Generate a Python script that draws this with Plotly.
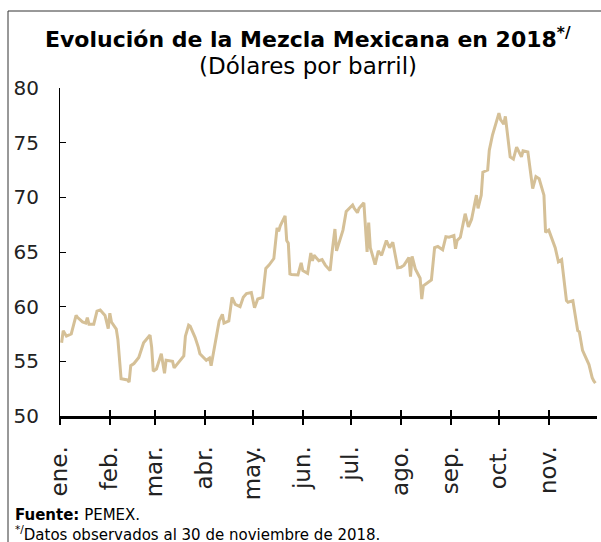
import plotly.graph_objects as go

# Mezcla Mexicana, USD por barril
dates = [
    "2018-01-02", "2018-01-03", "2018-01-05", "2018-01-08", "2018-01-11", "2018-01-12",
    "2018-01-15", "2018-01-17", "2018-01-18", "2018-01-19", "2018-01-22", "2018-01-24",
    "2018-01-26", "2018-01-29", "2018-01-31", "2018-02-01", "2018-02-02", "2018-02-05",
    "2018-02-06", "2018-02-08", "2018-02-12", "2018-02-13", "2018-02-14", "2018-02-16",
    "2018-02-19", "2018-02-22", "2018-02-26", "2018-02-27", "2018-02-28", "2018-03-02",
    "2018-03-05", "2018-03-07", "2018-03-08", "2018-03-12", "2018-03-13", "2018-03-19",
    "2018-03-20", "2018-03-22", "2018-03-23", "2018-03-26", "2018-03-28", "2018-03-29",
    "2018-04-02", "2018-04-04", "2018-04-05", "2018-04-06", "2018-04-10", "2018-04-12",
    "2018-04-13", "2018-04-16", "2018-04-18", "2018-04-20", "2018-04-23", "2018-04-25",
    "2018-04-27", "2018-04-30", "2018-05-02", "2018-05-04", "2018-05-07", "2018-05-09",
    "2018-05-11", "2018-05-14", "2018-05-16", "2018-05-17", "2018-05-18", "2018-05-21",
    "2018-05-22", "2018-05-23", "2018-05-24", "2018-05-25", "2018-05-29", "2018-05-31",
    "2018-06-01", "2018-06-04", "2018-06-06", "2018-06-07", "2018-06-08", "2018-06-11",
    "2018-06-13", "2018-06-15", "2018-06-18", "2018-06-19", "2018-06-21", "2018-06-22",
    "2018-06-26", "2018-06-28", "2018-07-02", "2018-07-03", "2018-07-05", "2018-07-06",
    "2018-07-09", "2018-07-11", "2018-07-12", "2018-07-13", "2018-07-16", "2018-07-18",
    "2018-07-20", "2018-07-23", "2018-07-25", "2018-07-27", "2018-07-30", "2018-08-01",
    "2018-08-03", "2018-08-06", "2018-08-07", "2018-08-08", "2018-08-10", "2018-08-13",
    "2018-08-14", "2018-08-15", "2018-08-17", "2018-08-20", "2018-08-22", "2018-08-24",
    "2018-08-27", "2018-08-29", "2018-08-31", "2018-09-03", "2018-09-04", "2018-09-05",
    "2018-09-07", "2018-09-10", "2018-09-12", "2018-09-14", "2018-09-17", "2018-09-18",
    "2018-09-20", "2018-09-21", "2018-09-24", "2018-09-25", "2018-09-27", "2018-10-01",
    "2018-10-02", "2018-10-04", "2018-10-05", "2018-10-08", "2018-10-10", "2018-10-12",
    "2018-10-15", "2018-10-16", "2018-10-19", "2018-10-22", "2018-10-24", "2018-10-26",
    "2018-10-29", "2018-10-30", "2018-11-01", "2018-11-05", "2018-11-07", "2018-11-09",
    "2018-11-12", "2018-11-13", "2018-11-16", "2018-11-19", "2018-11-20", "2018-11-22",
    "2018-11-26", "2018-11-28", "2018-11-29", "2018-11-30",
]
prices = [
    56.7, 57.8, 57.3, 57.5, 59.2, 59.0,
    58.6, 58.5, 59.0, 58.4, 58.4, 59.6,
    59.7, 59.2, 58.0, 59.4, 58.6, 57.95,
    57.0, 53.4, 53.3, 53.1, 54.6, 54.8,
    55.35, 56.7, 57.4, 56.3, 54.1, 54.3,
    55.7, 53.9, 55.1, 55.0, 54.4, 55.5,
    57.3, 58.3, 58.2, 57.2, 56.3, 55.7,
    55.1, 55.3, 54.6, 55.35, 58.7, 59.3,
    58.5, 58.7, 60.85, 60.2, 60.0, 60.85,
    61.2, 61.3, 59.9, 60.7, 60.85, 63.5,
    63.8, 64.4, 67.2, 66.9, 67.4, 68.3,
    66.05, 65.8, 63.0, 62.95, 62.9, 64.0,
    63.3, 63.05, 64.9, 64.2, 64.7, 64.2,
    64.3, 63.8, 63.3, 64.7, 67.1, 65.1,
    67.0, 68.7, 69.3, 69.0, 68.6, 69.0,
    69.5, 65.0, 67.7, 65.4, 63.85, 65.1,
    64.7, 66.05, 65.4, 65.9, 63.55, 63.6,
    63.8, 64.5, 62.75, 64.6, 63.45, 62.6,
    60.7, 61.9, 62.1, 62.45, 65.4, 65.5,
    65.2, 66.4, 66.35, 66.5, 65.3, 66.05,
    66.35, 68.5, 67.3, 68.0, 70.2, 69.0,
    70.2, 72.3, 72.5, 74.3, 75.7, 77.7,
    77.1, 76.7, 77.4, 73.7, 73.5, 74.6,
    73.7, 74.25, 74.15, 70.8, 71.9, 71.7,
    70.2, 66.8, 67.0, 65.4, 64.1, 64.3,
    60.55, 60.4, 60.55, 57.8, 57.7, 56.0,
    54.7, 53.5, 53.2, 53.0,
]

month_ticks = ["2018-01-01", "2018-02-01", "2018-03-01", "2018-04-01", "2018-05-01",
               "2018-06-01", "2018-07-01", "2018-08-01", "2018-09-01", "2018-10-01",
               "2018-11-01"]
month_labels = ["ene.", "feb.", "mar.", "abr.", "may.", "jun.", "jul.", "ago.",
                "sep.", "oct.", "nov."]

W, H = 601, 542
L, R, T, B = 60, 4, 88, 126
pw, ph = W - L - R, H - T - B


def px(x):
    return (x - L) / pw


def py(y):
    return (H - B - y) / ph


FONT = "DejaVu Sans"
line_color = "#D5C097"

fig = go.Figure()
fig.add_trace(go.Scatter(x=dates, y=prices, mode="lines",
                         line=dict(color=line_color, width=3),
                         showlegend=False, hoverinfo="x+y"))
# invisible trace so the overlay axis (upper half of the ticks) is drawn
fig.add_trace(go.Scatter(x=[dates[0]], y=[prices[0]], xaxis="x2", mode="markers",
                         marker=dict(opacity=0), showlegend=False, hoverinfo="skip"))

fig.update_layout(
    width=W, height=H,
    margin=dict(l=L, r=R, t=T, b=B),
    paper_bgcolor="white", plot_bgcolor="white",
    font=dict(family=FONT, color="black"),
    xaxis=dict(
        range=["2018-01-01", "2018-12-01"],
        tickvals=month_ticks, ticktext=month_labels,
        tickangle=-90, tickfont=dict(size=23, color="#222"),
        ticks="outside", ticklen=6, tickwidth=2, tickcolor="black",
        showline=True, linecolor="black", linewidth=3,
        showgrid=False, zeroline=False, ticklabelstandoff=12,
    ),
    xaxis2=dict(
        overlaying="x", matches="x", anchor="y",
        tickvals=month_ticks, showticklabels=False,
        ticks="inside", ticklen=6, tickwidth=2, tickcolor="black",
        showline=False, showgrid=False, zeroline=False,
    ),
    yaxis=dict(
        range=[50, 80], tickvals=[50, 55, 60, 65, 70, 75, 80],
        tickfont=dict(size=20, color="#222"),
        ticks="inside", ticklen=6, tickwidth=1, tickcolor="black",
        showline=True, linecolor="black", linewidth=1,
        showgrid=False, zeroline=False, ticklabelstandoff=16,
    ),
    shapes=[
        dict(type="line", xref="paper", yref="paper",
             x0=px(8), x1=px(8), y0=py(11), y1=py(H + 2),
             line=dict(color="#333", width=1)),
        dict(type="line", xref="paper", yref="paper",
             x0=px(8), x1=px(W + 2), y0=py(11), y1=py(11),
             line=dict(color="#333", width=1)),
    ],
    annotations=[
        dict(text="<b>Evolución de la Mezcla Mexicana en 2018<sup>*/</sup></b>",
             xref="paper", yref="paper", x=px(308), y=py(38),
             xanchor="center", yanchor="middle", showarrow=False,
             font=dict(size=22, color="black")),
        dict(text="(Dólares por barril)",
             xref="paper", yref="paper", x=px(308), y=py(66),
             xanchor="center", yanchor="middle", showarrow=False,
             font=dict(size=23, color="black")),
        dict(text="<b>Fuente:</b> PEMEX.<br>"
                  "<sup>*/</sup>Datos observados al 30 de noviembre de 2018.",
             xref="paper", yref="paper", x=px(13), y=py(546),
             xanchor="left", yanchor="bottom", align="left", showarrow=False,
             font=dict(size=15, color="black")),
    ],
)

# the page's default body margin would push the figure 8px off the window
fig.write_html("out.html", config={"displayModeBar": False},
               post_script="document.body.style.margin='0';")
